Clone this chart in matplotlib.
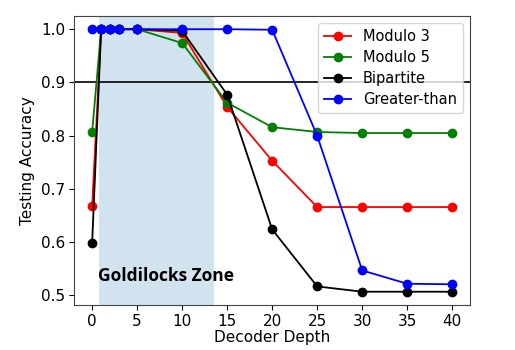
import numpy as np
import matplotlib
matplotlib.use('Agg')
import matplotlib.pyplot as plt

depths = [0, 1, 2, 3, 5, 10, 15, 20, 25, 30, 35, 40]
mod3 = [0.668, 1.0, 1.0, 1.0, 1.0, 0.993, 0.854, 0.753, 0.666, 0.666, 0.666, 0.666]
mod5 = [0.807, 1.0, 1.0, 1.0, 1.0, 0.974, 0.862, 0.816, 0.807, 0.805, 0.805, 0.805]
bipartite = [0.599, 1.0, 1.0, 1.0, 1.0, 0.997, 0.877, 0.624, 0.517, 0.507, 0.507, 0.507]
greater_than = [1.0, 1.0, 1.0, 1.0, 1.0, 1.0, 1.0, 0.999, 0.800, 0.547, 0.522, 0.521]

series = [("Modulo 3", mod3, "red"),
          ("Modulo 5", mod5, "green"),
          ("Bipartite", bipartite, "black"),
          ("Greater-than", greater_than, "blue")]

fig, ax = plt.subplots(figsize=(5.15, 3.5), dpi=100)
fig.subplots_adjust(left=0.144, right=0.913, bottom=0.129, top=0.954)

# goldilocks shading
ax.axvspan(0.8, 13.5, color='C0', alpha=0.2, lw=0)
ax.axhline(0.9, color='black', lw=1.2)

for name, vals, col in series:
    ax.plot(depths, vals, '-o', color=col, label=name, markersize=6, lw=1.3)

ax.text(0.7, 0.537, "Goldilocks Zone", fontsize=12.5, fontweight='bold',
        family=['Open Sans', 'DejaVu Sans'], va='center', ha='left')

ax.set_xticks([0, 5, 10, 15, 20, 25, 30, 35, 40])
ax.set_yticks([0.5, 0.6, 0.7, 0.8, 0.9, 1.0])
ax.tick_params(labelsize=11, pad=3)
for s in ax.spines.values():
    s.set_color('#444444')
ax.set_xlabel("Decoder Depth", fontsize=11, labelpad=1)
ax.set_ylabel("Testing Accuracy", fontsize=11)
ax.legend(loc='upper right', fontsize=10.5, handlelength=1.9,
          labelspacing=0.4, borderaxespad=0.5)

plt.savefig('out.png')
